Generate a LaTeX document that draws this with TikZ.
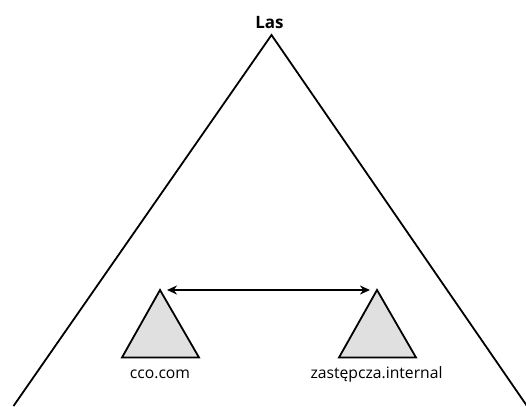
\documentclass[tikz,border=0pt]{standalone}
\usepackage{fontspec}
\setmainfont{Open Sans}
\usetikzlibrary{arrows.meta}
\definecolor{treegray}{HTML}{E0E0E0}
\begin{document}
\begin{tikzpicture}[x=1pt,y=-1pt,
  forestline/.style={line width=1.8pt, line join=miter},
  domaintri/.style={line width=1.8pt, fill=treegray, line join=miter},
  lbl/.style={anchor=base, inner sep=0pt, font=\fontsize{15.7}{18}\selectfont},
  trustarrow/.style={line width=1.8pt, {Stealth[length=10pt,width=9pt]}-{Stealth[length=10pt,width=9pt]}}]
\useasboundingbox (0,0) rectangle (526,406);
% forest
\coordinate (apex) at (271.5,35);
\coordinate (bl) at (13.5,406);
\coordinate (br) at (527,406);
\draw[forestline] (bl) -- (apex) -- (br);
\node[anchor=base, inner sep=0pt, font=\bfseries\fontsize{17}{20}\selectfont] (las) at (269.5,28.5) {Las};
% left domain
\coordinate (la) at (160,290);
\coordinate (ll) at (122,357.5);
\coordinate (lr) at (199,357.5);
\draw[domaintri] (la) -- (ll) -- (lr) -- cycle;
\node[lbl] (cco) at (160,378) {cco.com};
% right domain
\coordinate (ra) at (377,290);
\coordinate (rl) at (339,357.5);
\coordinate (rr) at (416,357.5);
\draw[domaintri] (ra) -- (rl) -- (rr) -- cycle;
\node[lbl] (zast) at (376.5,378) {zastępcza.internal};
% trust
\coordinate (ta) at (167,290);
\coordinate (tb) at (370,290);
\draw[trustarrow] (ta) -- (tb);
\end{tikzpicture}
\end{document}
